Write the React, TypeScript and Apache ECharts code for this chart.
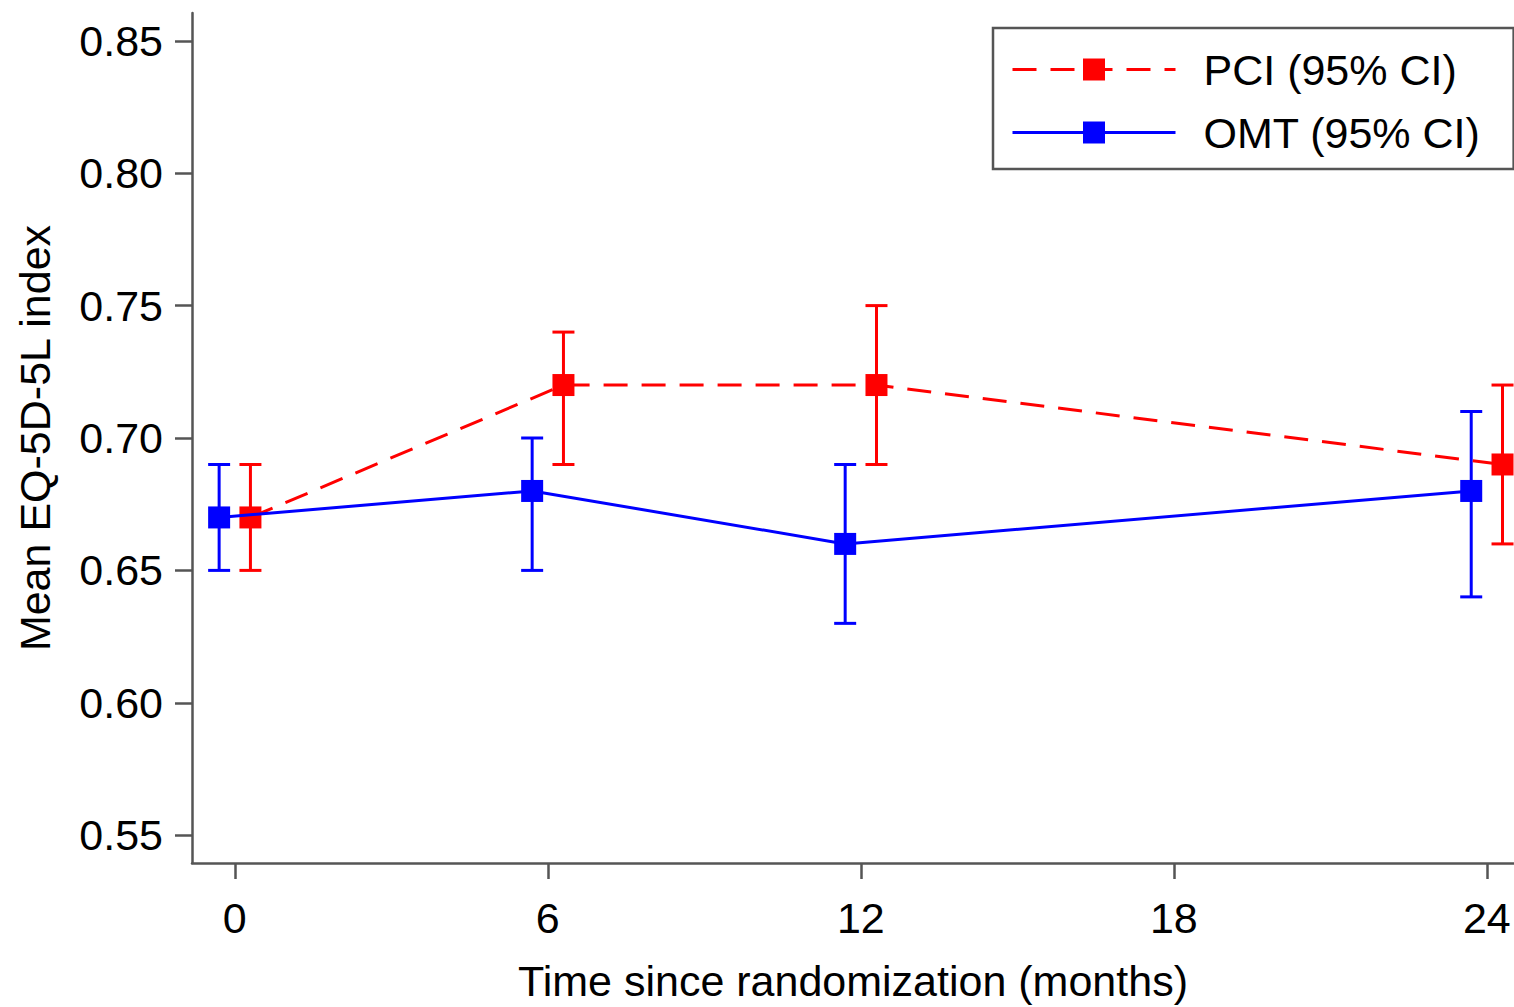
import React, { useEffect, useRef } from "react";
import * as echarts from "echarts";

const xTicks = [0, 6, 12, 18, 24];
const yTicks = [0.55, 0.6, 0.65, 0.7, 0.75, 0.8, 0.85];
const months = [0, 6, 12, 24];
const pciMean = [0.67, 0.72, 0.72, 0.69];
const pciLow = [0.65, 0.69, 0.69, 0.66];
const pciHigh = [0.69, 0.74, 0.75, 0.72];
const omtMean = [0.67, 0.68, 0.66, 0.68];
const omtLow = [0.65, 0.65, 0.63, 0.64];
const omtHigh = [0.69, 0.7, 0.69, 0.71];
const pciOffset = 0.3;
const omtOffset = -0.3;

const RED = "#ff0000";
const BLUE = "#0000ff";
const AXIS = "#555555";
const FONT = "Liberation Sans, Arial, sans-serif";
const FS = 43;

function errorBars(color: string, offset: number, low: number[], high: number[]) {
  return {
    type: "custom",
    silent: true,
    z: 2,
    data: months.map((m, i) => [m + offset, low[i], high[i]]),
    renderItem: (params: any, api: any) => {
      const x = api.value(0);
      const top = api.coord([x, api.value(2)]);
      const bot = api.coord([x, api.value(1)]);
      const hw = 11;
      const style = { stroke: color, lineWidth: 3 };
      return {
        type: "group",
        children: [
          { type: "line", shape: { x1: top[0], y1: top[1], x2: bot[0], y2: bot[1] }, style },
          { type: "line", shape: { x1: top[0] - hw, y1: top[1], x2: top[0] + hw, y2: top[1] }, style },
          { type: "line", shape: { x1: bot[0] - hw, y1: bot[1], x2: bot[0] + hw, y2: bot[1] }, style },
        ],
      };
    },
  };
}

export default function App() {
  const ref = useRef<HTMLDivElement>(null);
  useEffect(() => {
    if (!ref.current) return;
    const chart = echarts.init(ref.current, undefined, { renderer: "svg" });
    chart.setOption({
      animation: false,
      backgroundColor: "#ffffff",
      textStyle: { fontFamily: FONT },
      grid: { left: 192, top: 13, right: 0, bottom: 139, containLabel: false },
      legend: {
        orient: "vertical",
        left: 993,
        top: 28,
        padding: [20, 33, 15, 18],
        itemWidth: 163,
        itemHeight: 27.5,
        itemGap: 20,
        backgroundColor: "#ffffff",
        borderColor: AXIS,
        borderWidth: 2.5,
        lineStyle: { width: 3 },
        textStyle: { fontSize: FS, color: "#000", fontFamily: FONT, padding: [0, 0, 0, 23] },
        data: ["PCI (95% CI)", "OMT (95% CI)"],
      },
      xAxis: {
        type: "value",
        min: -0.82,
        max: 24.52,
        name: "Time since randomization (months)",
        nameLocation: "middle",
        nameGap: 96,
        nameTextStyle: { fontSize: FS, color: "#000", fontFamily: FONT },
        axisLine: { show: true, onZero: false, lineStyle: { color: AXIS, width: 2.5 } },
        axisTick: { show: true, length: 16, customValues: xTicks, lineStyle: { color: AXIS, width: 2.5 } },
        axisLabel: { customValues: xTicks, fontSize: FS, color: "#000", margin: 33, fontFamily: FONT },
        splitLine: { show: false },
      },
      yAxis: {
        type: "value",
        min: 0.5395,
        max: 0.8605,
        name: "Mean EQ-5D-5L index",
        nameLocation: "middle",
        nameGap: 136,
        nameTextStyle: { fontSize: FS, color: "#000", fontFamily: FONT },
        axisLine: { show: true, onZero: false, lineStyle: { color: AXIS, width: 2.5 } },
        axisTick: { show: true, length: 17, customValues: yTicks, lineStyle: { color: AXIS, width: 2.5 } },
        axisLabel: {
          customValues: yTicks,
          fontSize: FS,
          color: "#000",
          margin: 29,
          fontFamily: FONT,
          formatter: (v: number) => v.toFixed(2),
        },
        splitLine: { show: false },
      },
      series: [
        errorBars(RED, pciOffset, pciLow, pciHigh),
        {
          name: "PCI (95% CI)",
          type: "line",
          z: 3,
          data: months.map((m, i) => [m + pciOffset, pciMean[i]]),
          symbol: "rect",
          symbolSize: 22,
          itemStyle: { color: RED },
          lineStyle: { color: RED, width: 3, type: [24, 14] },
        },
        errorBars(BLUE, omtOffset, omtLow, omtHigh),
        {
          name: "OMT (95% CI)",
          type: "line",
          z: 4,
          data: months.map((m, i) => [m + omtOffset, omtMean[i]]),
          symbol: "rect",
          symbolSize: 22,
          itemStyle: { color: BLUE },
          lineStyle: { color: BLUE, width: 3, type: "solid" },
        },
      ],
    });
    return () => chart.dispose();
  }, []);
  return <div ref={ref} style={{ width: 1514, height: 1007, position: "absolute", left: 0, top: 0 }} />;
}
